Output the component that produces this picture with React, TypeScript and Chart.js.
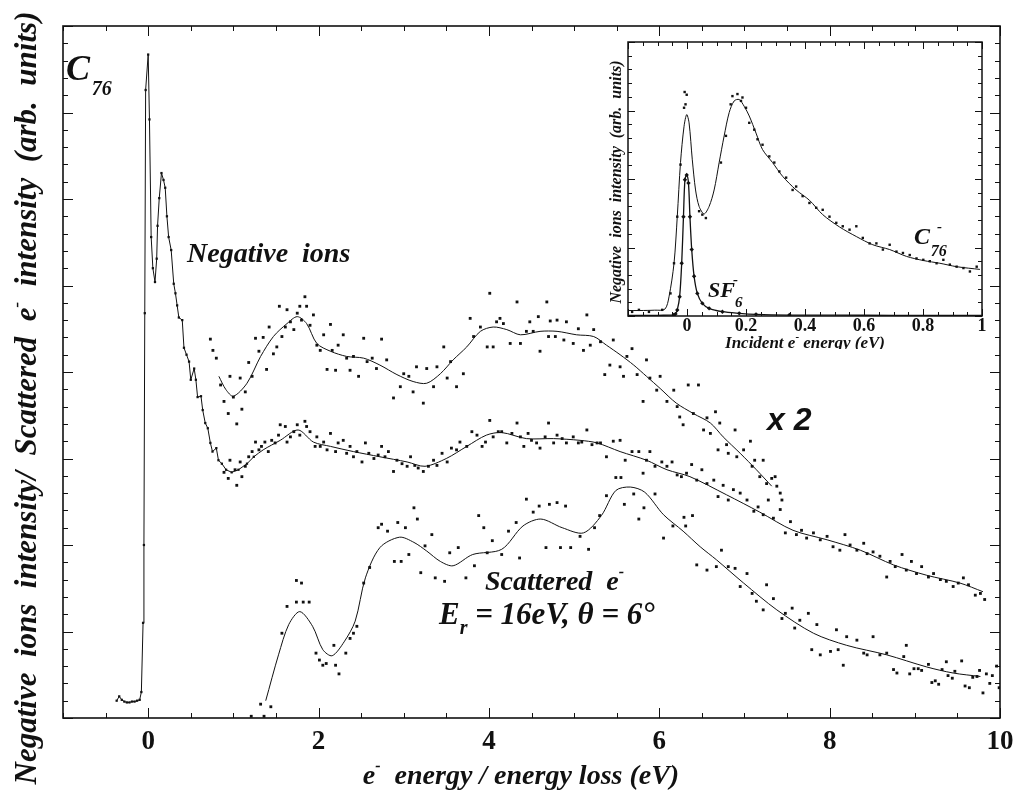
import React, { useEffect, useRef } from "react";
import { Chart, registerables } from "chart.js";

Chart.register(...registerables);

const SERIF = '"Liberation Serif", "Times New Roman", Times, serif';
const SANS = '"Liberation Sans", Arial, Helvetica, sans-serif';
const INK = "#111111";

// ---------------- main panel axes ----------------
const MAIN_X_MIN = -1;
const MAIN_X_MAX = 10;
const MAIN_Y_MIN = 0;
const MAIN_Y_MAX = 8;
const MAIN_X_TICKS = [0, 2, 4, 6, 8, 10];

// ---------------- inset axes ----------------
const INSET_X_MIN = -0.2;
const INSET_X_MAX = 1;
const INSET_Y_MIN = 0;
const INSET_Y_MAX = 4;
const INSET_X_TICKS = [0, 0.2, 0.4, 0.6, 0.8, 1];
const INSET_X_TICK_TEXT = ["0", "0.2", "0.4", "0.6", "0.8", "1"];

// ---------------- negative ions (x1) : sharp low-energy part, measured points joined ----------------
const NEG_SPIKE: [number, number][] = [
  [-0.37, 0.2], [-0.34, 0.25], [-0.31, 0.21], [-0.28, 0.19], [-0.25, 0.18], [-0.22, 0.18], [-0.19, 0.19], [-0.16, 0.19],
  [-0.13, 0.2], [-0.1, 0.21], [-0.08, 0.3], [-0.06, 1.1], [-0.05, 2.0], [-0.04, 4.68], [-0.03, 7.26], [0.0, 7.67],
  [0.015, 6.92], [0.035, 5.56], [0.055, 5.2], [0.08, 5.04], [0.1, 5.31], [0.11, 5.69], [0.13, 6.01], [0.156, 6.3],
  [0.18, 6.22], [0.2, 6.13], [0.22, 5.8], [0.24, 5.56], [0.27, 5.41], [0.3, 5.02], [0.32, 4.91], [0.34, 4.77],
  [0.36, 4.63], [0.4, 4.6], [0.42, 4.28], [0.45, 4.2], [0.48, 4.12], [0.5, 3.91], [0.54, 4.04], [0.56, 3.91],
  [0.58, 3.71], [0.62, 3.72], [0.64, 3.56], [0.67, 3.41], [0.7, 3.35], [0.73, 3.18], [0.755, 3.08], [0.8, 3.12],
  [0.825, 2.98], [0.865, 2.94], [0.915, 2.87], [0.98, 2.84], [1.06, 2.87], [1.16, 2.94], [1.24, 3.02],
];

// negative ions (x1) smoothed curve above 1.2 eV
const NEG_SMOOTH: [number, number][] = [
  [1.24, 3.02], [1.35, 3.1], [1.55, 3.21], [1.76, 3.33], [1.94, 3.19], [2.14, 3.14], [2.41, 3.08], [2.72, 3.02],
  [3.04, 2.96], [3.25, 2.91], [3.5, 3.0], [3.74, 3.14], [3.97, 3.27], [4.15, 3.3], [4.44, 3.23], [4.76, 3.23],
  [5.07, 3.21], [5.27, 3.18], [5.54, 3.08], [5.85, 2.98], [6.09, 2.87], [6.36, 2.79], [6.79, 2.58], [7.18, 2.38],
  [7.57, 2.17], [7.97, 2.06], [8.36, 1.94], [8.75, 1.77], [9.14, 1.65], [9.53, 1.56], [9.8, 1.46],
];

// negative ions (x1) raw points
const NEG_DOTS: [number, number][] = [
  [0.89, 2.84], [0.94, 2.77], [0.96, 2.98], [1.02, 2.87], [1.04, 2.69], [1.08, 2.96], [1.1, 2.79], [1.14, 2.91], [1.18, 3.02], [1.22, 3.08],
  [1.26, 3.19], [1.3, 3.1], [1.33, 3.14], [1.37, 3.19], [1.41, 3.08], [1.45, 3.21], [1.49, 3.18], [1.53, 3.27], [1.55, 3.39], [1.61, 3.37],
  [1.63, 3.19], [1.67, 3.25], [1.71, 3.31], [1.75, 3.39], [1.78, 3.27], [1.84, 3.43], [1.86, 3.37], [1.9, 3.31], [1.96, 3.14], [1.98, 3.25],
  [2.02, 3.14], [2.06, 3.19], [2.1, 3.1], [2.14, 3.29], [2.2, 3.08], [2.23, 3.18], [2.29, 3.21], [2.33, 3.06], [2.37, 3.14], [2.41, 3.02],
  [2.45, 3.08], [2.51, 2.96], [2.55, 3.18], [2.59, 3.06], [2.65, 3.0], [2.7, 3.04], [2.74, 3.14], [2.78, 3.02], [2.82, 3.08], [2.88, 2.85],
  [2.92, 2.98], [2.98, 2.94], [3.04, 2.91], [3.08, 3.02], [3.13, 2.92], [3.17, 2.89], [3.23, 2.85], [3.29, 2.91], [3.35, 2.98], [3.39, 2.92],
  [3.45, 3.06], [3.51, 2.96], [3.56, 3.12], [3.62, 3.1], [3.66, 3.19], [3.74, 3.14], [3.8, 3.31], [3.86, 3.27], [3.92, 3.14], [3.96, 3.19],
  [4.01, 3.44], [4.05, 3.25], [4.11, 3.31], [4.15, 3.31], [4.21, 3.18], [4.27, 3.29], [4.33, 3.41], [4.37, 3.25], [4.41, 3.14], [4.46, 3.29],
  [4.5, 3.21], [4.56, 3.18], [4.6, 3.12], [4.66, 3.25], [4.7, 3.41], [4.76, 3.18], [4.8, 3.27], [4.86, 3.23], [4.91, 3.18], [4.99, 3.25],
  [5.05, 3.18], [5.09, 3.19], [5.15, 3.33], [5.21, 3.16], [5.27, 3.18],
  [5.31, 3.18], [5.38, 3.02], [5.46, 3.2], [5.54, 3.21], [5.6, 2.98], [5.68, 3.08], [5.76, 3.08], [5.81, 2.83], [5.85, 2.98], [5.89, 3.08],
  [5.95, 2.91], [6.03, 2.96], [6.09, 2.91], [6.15, 2.96], [6.21, 2.81], [6.26, 2.79], [6.32, 2.83], [6.38, 2.93], [6.44, 2.75], [6.5, 2.87],
  [6.56, 2.71], [6.64, 2.75], [6.69, 2.56], [6.75, 2.69], [6.81, 2.52], [6.87, 2.64], [6.95, 2.6], [7.03, 2.52], [7.11, 2.39], [7.16, 2.44],
  [7.22, 2.35], [7.28, 2.52], [7.34, 2.31], [7.42, 2.41], [7.48, 2.14], [7.54, 2.27], [7.61, 2.12], [7.67, 2.17], [7.73, 2.08], [7.81, 2.14],
  [7.89, 2.06], [7.97, 2.1], [8.04, 1.98], [8.12, 1.94], [8.18, 2.12], [8.24, 2.0], [8.32, 1.94], [8.4, 2.02], [8.44, 1.9], [8.51, 1.92],
  [8.59, 1.87], [8.67, 1.63], [8.71, 1.81], [8.77, 1.75], [8.85, 1.89], [8.9, 1.71], [8.96, 1.81], [9.02, 1.67], [9.08, 1.75], [9.16, 1.63],
  [9.22, 1.67], [9.3, 1.6], [9.37, 1.58], [9.45, 1.52], [9.51, 1.56], [9.57, 1.62], [9.63, 1.54], [9.71, 1.42], [9.77, 1.44], [9.82, 1.37],
];

// negative ions x2 (upper trace) smoothed curve
const X2_SMOOTH: [number, number][] = [
  [0.83, 3.95], [0.91, 3.8], [1.0, 3.72], [1.16, 3.87], [1.32, 4.18], [1.47, 4.41], [1.63, 4.56], [1.75, 4.64],
  [1.86, 4.56], [1.98, 4.33], [2.14, 4.24], [2.33, 4.18], [2.53, 4.16], [2.72, 4.08], [2.92, 3.97], [3.11, 3.89],
  [3.27, 3.87], [3.43, 3.98], [3.58, 4.14], [3.74, 4.29], [3.9, 4.47], [4.05, 4.52], [4.21, 4.49], [4.37, 4.43],
  [4.6, 4.47], [4.8, 4.47], [5.03, 4.43], [5.23, 4.41], [5.38, 4.31], [5.54, 4.2], [5.7, 4.08], [5.85, 3.95],
  [6.01, 3.81], [6.2, 3.64], [6.4, 3.52], [6.6, 3.41], [6.75, 3.25], [6.95, 3.06], [7.14, 2.87], [7.32, 2.68],
];

// negative ions x2 raw points
const X2_DOTS: [number, number][] = [
  [0.73, 4.38], [0.76, 4.25], [0.8, 4.16], [0.85, 3.85], [0.89, 3.66], [0.94, 3.52], [0.96, 3.95], [1.0, 3.71], [1.04, 3.4], [1.08, 3.93],
  [1.1, 3.57], [1.14, 3.77], [1.18, 4.11], [1.22, 3.95], [1.26, 4.39], [1.3, 4.24], [1.35, 4.4], [1.39, 4.03], [1.42, 4.52], [1.47, 4.21],
  [1.51, 4.29], [1.54, 4.76], [1.57, 4.41], [1.61, 4.52], [1.63, 4.72], [1.67, 4.58], [1.71, 4.49], [1.75, 4.68], [1.78, 4.76], [1.8, 4.6],
  [1.84, 4.87], [1.86, 4.76], [1.9, 4.54], [1.94, 4.66], [1.98, 4.31], [2.02, 4.25], [2.06, 4.43], [2.1, 4.03], [2.14, 4.55], [2.16, 4.25],
  [2.2, 4.02], [2.23, 4.31], [2.29, 4.43], [2.33, 4.16], [2.37, 4.02], [2.41, 4.18], [2.47, 3.95], [2.53, 4.39], [2.57, 4.12], [2.63, 4.16],
  [2.68, 4.04], [2.74, 4.38], [2.8, 4.14], [2.88, 3.7], [2.96, 3.83], [3.0, 3.98], [3.06, 3.95], [3.11, 3.77], [3.15, 4.06], [3.23, 3.64],
  [3.27, 4.04], [3.35, 3.83], [3.39, 4.06], [3.47, 4.29], [3.51, 3.93], [3.55, 4.12], [3.62, 3.83], [3.7, 3.98], [3.78, 4.62], [3.82, 4.41],
  [3.9, 4.52], [3.98, 4.29], [4.01, 4.91], [4.05, 4.29], [4.09, 4.58], [4.13, 4.62], [4.17, 4.56], [4.25, 4.33], [4.33, 4.81], [4.37, 4.33],
  [4.44, 4.47], [4.48, 4.58], [4.52, 4.47], [4.58, 4.64], [4.6, 4.24], [4.68, 4.81], [4.7, 4.41], [4.72, 4.59], [4.78, 4.41], [4.8, 4.6],
  [4.88, 4.37], [4.91, 4.58], [4.99, 4.33], [5.05, 4.5], [5.11, 4.25], [5.15, 4.66], [5.19, 4.31], [5.23, 4.49], [5.31, 4.35], [5.36, 3.97],
  [5.42, 4.08], [5.46, 4.37], [5.54, 4.06], [5.58, 3.95], [5.62, 4.18], [5.68, 4.27], [5.74, 3.97], [5.81, 3.66], [5.85, 4.14], [5.89, 3.93],
  [5.97, 3.79], [6.01, 3.95], [6.09, 3.66], [6.17, 3.79], [6.21, 3.6], [6.24, 3.48], [6.28, 3.39], [6.34, 3.85], [6.4, 3.52], [6.46, 3.85],
  [6.52, 3.33], [6.56, 3.47], [6.6, 3.29], [6.66, 3.54], [6.69, 3.1], [6.71, 3.41], [6.79, 3.16], [6.81, 3.06], [6.89, 3.33], [6.91, 3.02],
  [6.99, 3.1], [7.07, 3.2], [7.09, 2.91], [7.12, 2.98], [7.18, 2.79], [7.22, 2.98], [7.26, 2.71], [7.32, 2.77], [7.36, 2.79], [7.38, 2.68],
  [7.42, 2.6], [7.44, 2.52],
];

// scattered electrons: smoothed curve
const SCAT_SMOOTH: [number, number][] = [
  [1.38, 0.2], [1.53, 0.73], [1.65, 1.08], [1.78, 1.23], [1.93, 1.06], [2.05, 0.79], [2.16, 0.72], [2.3, 0.88],
  [2.43, 1.12], [2.55, 1.62], [2.72, 1.97], [2.95, 2.09], [3.12, 2.03], [3.27, 1.93], [3.43, 1.81], [3.58, 1.76],
  [3.81, 1.89], [4.15, 1.95], [4.4, 2.22], [4.61, 2.3], [4.86, 2.2], [5.11, 2.14], [5.32, 2.34], [5.49, 2.63],
  [5.66, 2.67], [5.83, 2.61], [6.05, 2.35], [6.28, 2.16], [6.48, 1.98], [6.67, 1.83], [6.99, 1.56], [7.38, 1.25],
  [7.81, 0.98], [8.2, 0.84], [8.67, 0.73], [9.14, 0.59], [9.45, 0.52], [9.77, 0.48],
];

// scattered electrons: raw points
const SCAT_DOTS: [number, number][] = [
  [1.21, 0.02], [1.36, 0.02], [1.32, 0.16], [1.44, 0.13], [1.57, 0.98], [1.63, 1.29], [1.74, 1.59], [1.8, 1.56], [1.74, 1.34], [1.82, 1.34],
  [1.89, 1.34], [1.97, 0.75], [2.01, 0.67], [2.05, 0.61], [2.09, 0.63], [2.2, 0.61], [2.24, 0.51], [2.18, 0.84], [2.32, 0.75], [2.37, 0.92],
  [2.41, 0.98], [2.45, 1.06], [2.53, 1.56], [2.6, 1.74], [2.7, 2.2], [2.74, 2.24], [2.81, 2.16], [2.89, 1.81], [2.93, 2.26], [2.97, 1.81],
  [3.02, 2.2], [3.06, 1.89], [3.12, 2.43], [3.16, 2.3], [3.2, 1.68], [3.25, 1.99], [3.33, 2.12], [3.37, 1.62], [3.48, 1.58], [3.54, 1.91],
  [3.64, 1.97], [3.73, 1.62], [3.83, 1.76], [3.88, 2.34], [3.94, 2.2], [3.98, 1.91], [4.04, 2.05], [4.15, 1.89], [4.23, 2.16], [4.32, 2.26],
  [4.36, 1.85], [4.44, 2.53], [4.52, 2.38], [4.59, 2.45], [4.67, 1.97], [4.71, 2.47], [4.8, 2.49], [4.84, 1.97], [4.9, 2.45], [4.96, 1.97],
  [5.07, 2.1], [5.17, 1.95], [5.24, 2.2], [5.3, 2.34], [5.38, 2.57], [5.49, 2.78], [5.55, 2.78], [5.59, 2.47], [5.7, 2.59], [5.76, 2.3],
  [5.82, 2.43], [5.95, 2.59], [6.05, 2.08], [6.16, 2.22], [6.29, 2.32], [6.31, 2.22], [6.39, 2.34],
  [6.44, 1.77], [6.56, 1.71], [6.67, 1.75], [6.73, 1.94], [6.81, 1.75], [6.89, 1.73], [6.95, 1.52], [7.03, 1.67], [7.09, 1.44], [7.14, 1.35],
  [7.22, 1.25], [7.26, 1.54], [7.34, 1.38], [7.44, 1.15], [7.48, 1.21], [7.56, 1.27], [7.59, 1.04], [7.65, 1.13], [7.75, 1.21], [7.79, 0.79],
  [7.85, 1.08], [7.89, 0.73], [8.01, 0.77], [8.08, 1.02], [8.1, 0.79], [8.16, 0.61], [8.2, 0.94], [8.32, 0.9], [8.4, 0.75], [8.44, 0.73],
  [8.51, 0.94], [8.59, 0.73], [8.67, 0.75], [8.75, 0.56], [8.79, 0.52], [8.87, 0.71], [8.9, 0.84],
  [8.94, 0.51], [8.99, 0.57], [9.04, 0.57], [9.08, 0.55], [9.16, 0.62], [9.2, 0.41], [9.24, 0.43], [9.28, 0.39], [9.32, 0.56], [9.37, 0.65],
  [9.39, 0.49], [9.44, 0.46], [9.47, 0.54], [9.55, 0.66], [9.59, 0.37], [9.64, 0.35], [9.68, 0.47], [9.73, 0.48], [9.76, 0.55], [9.8, 0.29],
  [9.84, 0.51], [9.88, 0.4], [9.91, 0.49], [9.96, 0.6], [9.99, 0.35],
];

// ---------------- inset: C76- and SF6- yields ----------------
const C76_SMOOTH: [number, number][] = [
  [-0.2, 0.08], [-0.16, 0.08], [-0.11, 0.085], [-0.075, 0.1], [-0.061, 0.28], [-0.044, 0.77], [-0.033, 1.45], [-0.022, 2.24],
  [-0.01, 2.77], [-0.001, 2.94], [0.007, 2.82], [0.018, 2.28], [0.029, 1.84], [0.041, 1.6], [0.058, 1.49], [0.075, 1.6],
  [0.092, 1.84], [0.109, 2.24], [0.126, 2.63], [0.143, 2.97], [0.16, 3.14], [0.177, 3.16], [0.194, 3.06], [0.211, 2.92],
  [0.234, 2.67], [0.256, 2.43], [0.29, 2.24], [0.324, 2.04], [0.37, 1.84], [0.415, 1.69], [0.46, 1.48], [0.517, 1.3],
  [0.574, 1.16], [0.63, 1.04], [0.687, 0.97], [0.744, 0.87], [0.801, 0.81], [0.857, 0.77], [0.914, 0.72], [0.993, 0.68],
];

const C76_DOTS: [number, number][] = [
  [-0.186, 0.06], [-0.163, 0.09], [-0.129, 0.06], [-0.084, 0.09], [-0.056, 0.33], [-0.044, 0.77], [-0.033, 1.45], [-0.022, 2.21],
  [-0.01, 3.04], [-0.008, 3.27], [-0.005, 3.09], [-0.001, 3.23], [0.041, 1.53], [0.052, 1.48], [0.064, 1.43], [0.115, 2.24],
  [0.132, 2.63], [0.148, 3.09], [0.154, 3.21], [0.171, 3.24], [0.183, 3.14], [0.188, 3.19], [0.2, 3.04], [0.211, 2.82],
  [0.228, 2.72], [0.239, 2.58], [0.256, 2.5], [0.279, 2.33], [0.296, 2.24], [0.313, 2.11], [0.336, 2.02], [0.358, 1.84],
  [0.37, 1.89], [0.392, 1.75], [0.415, 1.65], [0.438, 1.58], [0.46, 1.55], [0.483, 1.45], [0.506, 1.36], [0.528, 1.31],
  [0.551, 1.26], [0.574, 1.31], [0.596, 1.14], [0.619, 1.06], [0.642, 1.06], [0.664, 0.97], [0.687, 1.04], [0.71, 0.94],
  [0.732, 0.92], [0.755, 0.89], [0.778, 0.84], [0.801, 0.82], [0.823, 0.8], [0.846, 0.77], [0.869, 0.82], [0.891, 0.75],
  [0.914, 0.72], [0.937, 0.7], [0.959, 0.65], [0.982, 0.72],
];

const SF6_POINTS: [number, number][] = [
  [-0.2, 0.01], [-0.15, 0.01], [-0.1, 0.01], [-0.06, 0.012], [-0.045, 0.014], [-0.039, 0.03], [-0.033, 0.088], [-0.025, 0.28],
  [-0.018, 0.77], [-0.012, 1.45], [-0.007, 1.99], [-0.001, 2.06], [0.005, 1.94], [0.01, 1.45], [0.016, 0.97], [0.024, 0.58],
  [0.035, 0.33], [0.052, 0.185], [0.075, 0.112], [0.12, 0.063], [0.177, 0.039], [0.234, 0.024], [0.347, 0.014], [0.5, 0.012],
  [0.7, 0.01], [0.85, 0.01], [1.0, 0.01],
];

// ---------------- helpers ----------------
const toPts = (arr: [number, number][]) => arr.map(([x, y]) => ({ x, y }));

type Part = { t: string; size: number; dy?: number; family?: string; weight?: string };

function drawRich(ctx: CanvasRenderingContext2D, parts: Part[], x: number, y: number, align: "left" | "center") {
  const widths = parts.map((p) => {
    ctx.font = `${p.weight || "italic bold"} ${p.size}px ${p.family || SERIF}`;
    return ctx.measureText(p.t).width;
  });
  const total = widths.reduce((a, b) => a + b, 0);
  let cx = align === "center" ? x - total / 2 : x;
  parts.forEach((p, i) => {
    ctx.font = `${p.weight || "italic bold"} ${p.size}px ${p.family || SERIF}`;
    ctx.fillText(p.t, cx, y + (p.dy || 0));
    cx += widths[i];
  });
}

type TickCfg = { xMinor: number; xMajor: number; yMinor: number; yMajor: number; majorLen: number; minorLen: number; frame: number; fill?: boolean };

function framePlugin(id: string, cfg: TickCfg) {
  return {
    id,
    beforeDatasetsDraw(chart: any) {
      if (!cfg.fill) return;
      const { ctx, chartArea: a } = chart;
      ctx.save();
      ctx.fillStyle = "#ffffff";
      ctx.fillRect(a.left, a.top, a.right - a.left, a.bottom - a.top);
      ctx.restore();
    },
    afterDatasetsDraw(chart: any) {
      const { ctx, chartArea: a, scales } = chart;
      const xs = scales.x;
      const ys = scales.y;
      const isMult = (v: number, m: number) => Math.abs(v / m - Math.round(v / m)) < 1e-6;
      ctx.save();
      ctx.strokeStyle = INK;
      ctx.lineWidth = 1;
      ctx.beginPath();
      const nx = Math.round((xs.max - xs.min) / cfg.xMinor);
      for (let i = 0; i <= nx; i++) {
        const v = xs.min + i * cfg.xMinor;
        const p = Math.round(xs.getPixelForValue(v)) + 0.5;
        const L = isMult(v, cfg.xMajor) ? cfg.majorLen : cfg.minorLen;
        ctx.moveTo(p, a.bottom);
        ctx.lineTo(p, a.bottom - L);
        ctx.moveTo(p, a.top);
        ctx.lineTo(p, a.top + L);
      }
      const ny = Math.round((ys.max - ys.min) / cfg.yMinor);
      for (let i = 0; i <= ny; i++) {
        const v = ys.min + i * cfg.yMinor;
        const p = Math.round(ys.getPixelForValue(v)) + 0.5;
        const L = isMult(v, cfg.yMajor) ? cfg.majorLen : cfg.minorLen;
        ctx.moveTo(a.left, p);
        ctx.lineTo(a.left + L, p);
        ctx.moveTo(a.right, p);
        ctx.lineTo(a.right - L, p);
      }
      ctx.stroke();
      ctx.lineWidth = cfg.frame;
      ctx.strokeRect(a.left, a.top, a.right - a.left, a.bottom - a.top);
      ctx.restore();
    },
  };
}

const mainText = {
  id: "mainText",
  afterDraw(chart: any) {
    const ctx: CanvasRenderingContext2D = chart.ctx;
    ctx.save();
    ctx.fillStyle = INK;
    ctx.textBaseline = "alphabetic";
    // C76
    drawRich(ctx, [{ t: "C", size: 36 }, { t: " ", size: 7 }, { t: "76", size: 20, dy: 15 }], 66, 80, "left");
    // Negative ions
    drawRich(ctx, [{ t: "Negative  ions", size: 28 }], 187, 262, "left");
    // x 2
    drawRich(ctx, [{ t: "x 2", size: 32, family: SANS }], 767, 430, "left");
    // Scattered e-
    drawRich(ctx, [{ t: "Scattered  e", size: 28 }, { t: "-", size: 16, dy: -13 }], 485, 590, "left");
    drawRich(
      ctx,
      [{ t: "E", size: 31 }, { t: "r", size: 20, dy: 10 }, { t: " = 16eV, \u03B8 = 6\u00B0", size: 31 }],
      439,
      624,
      "left"
    );
    // x-axis title
    drawRich(
      ctx,
      [{ t: "e", size: 28 }, { t: "-", size: 16, dy: -13 }, { t: "  energy / energy loss (eV)", size: 28 }],
      521,
      784,
      "center"
    );
    // y-axis title
    ctx.translate(36, 398);
    ctx.rotate(-Math.PI / 2);
    drawRich(
      ctx,
      [
        { t: "Negative  ions  intensity/  Scattered  e", size: 31 },
        { t: "-", size: 17, dy: -14 },
        { t: "  intensity  (arb.  units)", size: 31 },
      ],
      0,
      0,
      "center"
    );
    ctx.restore();
  },
};

const insetText = {
  id: "insetText",
  afterDraw(chart: any) {
    const ctx: CanvasRenderingContext2D = chart.ctx;
    ctx.save();
    ctx.fillStyle = INK;
    ctx.textBaseline = "alphabetic";
    // C76-
    drawRich(ctx, [{ t: "C", size: 24 }, { t: " ", size: 3 }, { t: "76", size: 16, dy: 12 }], 318, 210, "left");
    drawRich(ctx, [{ t: "-", size: 15 }], 341, 197, "left");
    // SF6-
    drawRich(ctx, [{ t: "SF", size: 22 }, { t: "6", size: 15, dy: 10 }], 112, 263, "left");
    drawRich(ctx, [{ t: "-", size: 15 }], 137, 250, "left");
    // x title
    drawRich(
      ctx,
      [{ t: "Incident e", size: 17 }, { t: "-", size: 11, dy: -8 }, { t: " energy (eV)", size: 17 }],
      209,
      314,
      "center"
    );
    // y title
    ctx.translate(25, 148);
    ctx.rotate(-Math.PI / 2);
    drawRich(ctx, [{ t: "Negative  ions  intensity  (arb.  units)", size: 16 }], 0, 0, "center");
    ctx.restore();
  },
};

const dotSet = (arr: [number, number][], r = 2) => ({
  data: toPts(arr),
  showLine: false,
  pointStyle: "rect",
  pointRadius: r,
  pointHoverRadius: r,
  pointBorderWidth: 0,
  pointBackgroundColor: INK,
  pointBorderColor: INK,
  borderColor: INK,
  backgroundColor: INK,
});

const lineSet = (arr: [number, number][], tension: number, extra: any = {}) => ({
  data: toPts(arr),
  showLine: true,
  pointRadius: 0,
  pointHoverRadius: 0,
  borderColor: INK,
  backgroundColor: INK,
  borderWidth: 1,
  tension,
  fill: false,
  ...extra,
});

function mainConfig(): any {
  return {
    type: "scatter",
    data: {
      datasets: [
        dotSet(NEG_DOTS),
        dotSet(X2_DOTS),
        dotSet(SCAT_DOTS),
        lineSet(NEG_SPIKE, 0, {
          pointRadius: 1.6,
          pointStyle: "rect",
          pointBackgroundColor: INK,
          pointBorderWidth: 0,
        }),
        lineSet(NEG_SMOOTH, 0.3),
        lineSet(X2_SMOOTH, 0.3),
        lineSet(SCAT_SMOOTH, 0.3),
      ],
    },
    options: {
      animation: false,
      responsive: false,
      maintainAspectRatio: false,
      devicePixelRatio: 1,
      events: [],
      layout: { padding: { left: 0, right: 18, top: 26, bottom: 0 } },
      plugins: { legend: { display: false }, tooltip: { enabled: false }, title: { display: false } },
      scales: {
        x: {
          type: "linear",
          min: MAIN_X_MIN,
          max: MAIN_X_MAX,
          grid: { display: false, drawTicks: false },
          border: { display: false },
          afterBuildTicks: (s: any) => {
            s.ticks = MAIN_X_TICKS.map((v) => ({ value: v }));
          },
          afterFit: (s: any) => {
            s.height = 72;
          },
          ticks: {
            color: INK,
            padding: 0,
            maxRotation: 0,
            autoSkip: false,
            font: { family: SERIF, size: 27, weight: "bold", lineHeight: 1.78 },
            callback: (v: any) => String(v),
          },
        },
        y: {
          type: "linear",
          min: MAIN_Y_MIN,
          max: MAIN_Y_MAX,
          grid: { display: false, drawTicks: false },
          border: { display: false },
          ticks: { display: false },
          afterFit: (s: any) => {
            s.width = 63;
          },
        },
      },
    },
    plugins: [
      framePlugin("mainFrame", { xMinor: 0.5, xMajor: 2, yMinor: 0.2, yMajor: 1, majorLen: 10, minorLen: 5, frame: 1.6 }),
      mainText,
    ],
  };
}

function insetConfig(): any {
  return {
    type: "scatter",
    data: {
      datasets: [
        dotSet(C76_DOTS, 1.7),
        lineSet(C76_SMOOTH, 0.3),
        lineSet(SF6_POINTS, 0.3, {
          borderWidth: 1.3,
          pointRadius: (c: any) => (c.raw && c.raw.x > -0.05 && c.raw.x < 0.4 ? 2.2 : 0),
          pointStyle: "rectRot",
          pointBackgroundColor: INK,
          pointBorderWidth: 0,
        }),
      ],
    },
    options: {
      animation: false,
      responsive: false,
      maintainAspectRatio: false,
      devicePixelRatio: 1,
      events: [],
      layout: { padding: { left: 0, right: 8, top: 8, bottom: 0 } },
      plugins: { legend: { display: false }, tooltip: { enabled: false }, title: { display: false } },
      scales: {
        x: {
          type: "linear",
          min: INSET_X_MIN,
          max: INSET_X_MAX,
          grid: { display: false, drawTicks: false },
          border: { display: false },
          afterBuildTicks: (s: any) => {
            s.ticks = INSET_X_TICKS.map((v) => ({ value: v }));
          },
          afterFit: (s: any) => {
            s.height = 33;
          },
          ticks: {
            color: INK,
            padding: 0,
            maxRotation: 0,
            autoSkip: false,
            font: { family: SERIF, size: 18, weight: "bold", lineHeight: 1.2 },
            callback: (_v: any, i: number) => INSET_X_TICK_TEXT[i],
          },
        },
        y: {
          type: "linear",
          min: INSET_Y_MIN,
          max: INSET_Y_MAX,
          grid: { display: false, drawTicks: false },
          border: { display: false },
          ticks: { display: false },
          afterFit: (s: any) => {
            s.width = 32;
          },
        },
      },
    },
    plugins: [
      framePlugin("insetFrame", { xMinor: 0.05, xMajor: 0.2, yMinor: 0.2, yMajor: 1, majorLen: 7, minorLen: 4, frame: 1.5, fill: true }),
      insetText,
    ],
  };
}

export default function App() {
  const mainRef = useRef<HTMLCanvasElement>(null);
  const insetRef = useRef<HTMLCanvasElement>(null);
  useEffect(() => {
    const main = new Chart(mainRef.current as HTMLCanvasElement, mainConfig());
    const inset = new Chart(insetRef.current as HTMLCanvasElement, insetConfig());
    return () => {
      main.destroy();
      inset.destroy();
    };
  }, []);
  return (
    <div style={{ position: "absolute", left: 0, top: 0, width: 1018, height: 790, background: "#ffffff", overflow: "hidden" }}>
      <canvas ref={mainRef} width={1018} height={790} style={{ position: "absolute", left: 0, top: 0 }} />
      <canvas ref={insetRef} width={394} height={315} style={{ position: "absolute", left: 596, top: 34 }} />
    </div>
  );
}
